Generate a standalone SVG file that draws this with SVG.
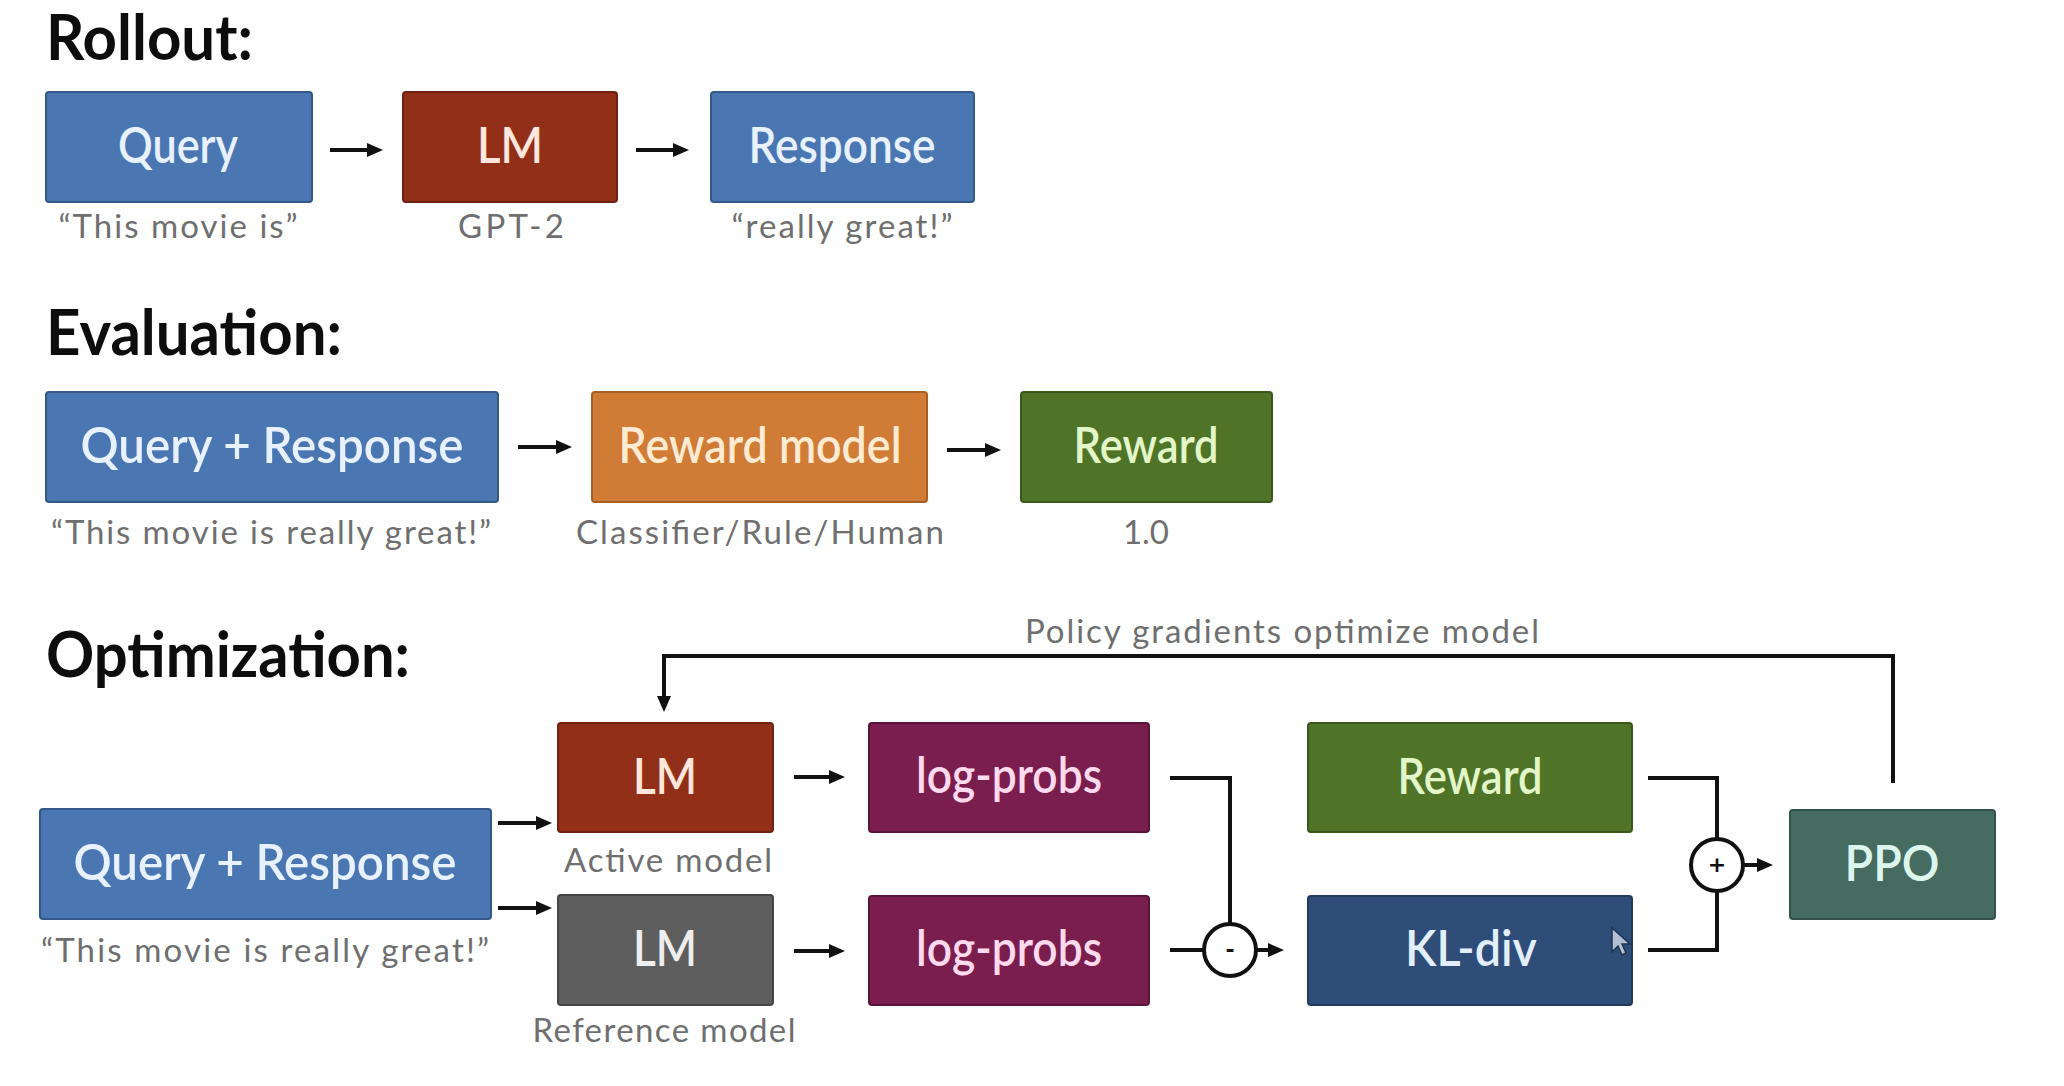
<svg xmlns="http://www.w3.org/2000/svg" width="2064" height="1086" viewBox="0 0 2064 1086">
  <style>
    .title { font-family: Lato, "Open Sans", "Liberation Sans", sans-serif; font-weight: 700; font-size: 63px; fill: #0d0d0d; }
    .lbl { font-family: Lato, "Open Sans", "Liberation Sans", sans-serif; font-weight: 600; font-size: 49px; text-anchor: middle; }
    .sub { font-family: Lato, "Open Sans", "Liberation Sans", sans-serif; font-size: 33px; fill: #6f6f6f; text-anchor: middle; }
    .box { stroke-width: 2; }
    .blue { fill: #4a77b2; stroke: #34588a; }
    .red { fill: #922f18; stroke: #6e2210; }
    .orange { fill: #d07b36; stroke: #a55e24; }
    .green { fill: #4f7427; stroke: #3a571c; }
    .purple { fill: #7a1e4d; stroke: #5a1638; }
    .gray { fill: #5e5e5e; stroke: #454545; }
    .navy { fill: #2f4d79; stroke: #223a5c; }
    .teal { fill: #466c62; stroke: #34524a; }
    .t-blue { fill: #e8f1ff; }
    .t-red { fill: #ffe6dc; }
    .t-orange { fill: #ffead2; }
    .t-green { fill: #e2f6c9; }
    .t-purple { fill: #ffd9ee; }
    .t-gray { fill: #eeeeee; }
    .t-navy { fill: #e3eeff; }
    .t-teal { fill: #dcf6ee; }
    .wire { fill: none; stroke: #111; stroke-width: 4; }
    .arrow { fill: none; stroke: #111; stroke-width: 4; marker-end: url(#head); }
    .op { fill: #fff; stroke: #111; stroke-width: 4; }
    .opsym { font-family: "DejaVu Sans", sans-serif; font-size: 22px; font-weight: 700; fill: #111; text-anchor: middle; }
  </style>
  <defs>
    <marker id="head" viewBox="0 0 16 16" refX="6" refY="8" markerWidth="16" markerHeight="16" markerUnits="userSpaceOnUse" orient="auto">
      <path d="M0,1 L16,8 L0,15 z" fill="#111"/>
    </marker>
  </defs>

  <rect width="2064" height="1086" fill="#fefefe"/>

  <!-- section headings -->
  <text class="title" x="46" y="60" textLength="207" lengthAdjust="spacingAndGlyphs">Rollout:</text>
  <text class="title" x="46" y="355" textLength="296" lengthAdjust="spacingAndGlyphs">Evaluation:</text>
  <text class="title" x="46" y="677" textLength="364" lengthAdjust="spacingAndGlyphs">Optimization:</text>

  <!-- rollout row -->
  <g id="rollout-query">
    <rect class="box blue" x="46" y="92" width="266" height="110" rx="3"/>
    <text class="lbl t-blue" x="178" y="163" textLength="120" lengthAdjust="spacingAndGlyphs">Query</text>
    <text class="sub" x="178" y="238" textLength="239" lengthAdjust="spacing">“This movie is”</text>
  </g>
  <g id="rollout-lm">
    <rect class="box red" x="403" y="92" width="214" height="110" rx="3"/>
    <text class="lbl t-red" x="510" y="163" textLength="66" lengthAdjust="spacingAndGlyphs">LM</text>
    <text class="sub" x="511" y="238" textLength="106" lengthAdjust="spacing">GPT-2</text>
  </g>
  <g id="rollout-response">
    <rect class="box blue" x="711" y="92" width="263" height="110" rx="3"/>
    <text class="lbl t-blue" x="842" y="163" textLength="187" lengthAdjust="spacingAndGlyphs">Response</text>
    <text class="sub" x="842" y="238" textLength="221" lengthAdjust="spacing">“really great!”</text>
  </g>

  <!-- evaluation row -->
  <g id="eval-query-response">
    <rect class="box blue" x="46" y="392" width="452" height="110" rx="3"/>
    <text class="lbl t-blue" x="272" y="463" textLength="383" lengthAdjust="spacingAndGlyphs">Query + Response</text>
    <text class="sub" x="271" y="544" textLength="440" lengthAdjust="spacing">“This movie is really great!”</text>
  </g>
  <g id="eval-reward-model">
    <rect class="box orange" x="592" y="392" width="335" height="110" rx="3"/>
    <text class="lbl t-orange" x="760" y="463" textLength="283" lengthAdjust="spacingAndGlyphs">Reward model</text>
    <text class="sub" x="760" y="544" textLength="368" lengthAdjust="spacing">Classifier/Rule/Human</text>
  </g>
  <g id="eval-reward">
    <rect class="box green" x="1021" y="392" width="251" height="110" rx="3"/>
    <text class="lbl t-green" x="1146" y="463" textLength="145" lengthAdjust="spacingAndGlyphs">Reward</text>
    <text class="sub" x="1146" y="544" textLength="46" lengthAdjust="spacing">1.0</text>
  </g>

  <!-- optimization stage -->
  <g id="opt-query-response">
    <rect class="box blue" x="40" y="809" width="451" height="110" rx="3"/>
    <text class="lbl t-blue" x="265" y="880" textLength="383" lengthAdjust="spacingAndGlyphs">Query + Response</text>
    <text class="sub" x="265" y="962" textLength="448" lengthAdjust="spacing">“This movie is really great!”</text>
  </g>
  <g id="opt-active-lm">
    <rect class="box red" x="558" y="723" width="215" height="109" rx="3"/>
    <text class="lbl t-red" x="665" y="794" textLength="64" lengthAdjust="spacingAndGlyphs">LM</text>
    <text class="sub" x="668" y="872" textLength="208" lengthAdjust="spacing">Active model</text>
  </g>
  <g id="opt-reference-lm">
    <rect class="box gray" x="558" y="895" width="215" height="110" rx="3"/>
    <text class="lbl t-gray" x="665" y="966" textLength="64" lengthAdjust="spacingAndGlyphs">LM</text>
    <text class="sub" x="664" y="1042" textLength="263" lengthAdjust="spacing">Reference model</text>
  </g>
  <g id="opt-logprobs-active">
    <rect class="box purple" x="869" y="723" width="280" height="109" rx="3"/>
    <text class="lbl t-purple" x="1009" y="793" textLength="186" lengthAdjust="spacingAndGlyphs">log-probs</text>
  </g>
  <g id="opt-logprobs-reference">
    <rect class="box purple" x="869" y="896" width="280" height="109" rx="3"/>
    <text class="lbl t-purple" x="1009" y="966" textLength="186" lengthAdjust="spacingAndGlyphs">log-probs</text>
  </g>
  <g id="opt-reward">
    <rect class="box green" x="1308" y="723" width="324" height="109" rx="3"/>
    <text class="lbl t-green" x="1470" y="794" textLength="145" lengthAdjust="spacingAndGlyphs">Reward</text>
  </g>
  <g id="opt-kl-div">
    <rect class="box navy" x="1308" y="896" width="324" height="109" rx="3"/>
    <text class="lbl t-navy" x="1471" y="966" textLength="132" lengthAdjust="spacingAndGlyphs">KL-div</text>
  </g>
  <g id="opt-ppo">
    <rect class="box teal" x="1790" y="810" width="205" height="109" rx="3"/>
    <text class="lbl t-teal" x="1892" y="881" textLength="95" lengthAdjust="spacingAndGlyphs">PPO</text>
  </g>

  <!-- connectors -->
  <g id="connectors">
    <!-- rollout -->
    <line class="arrow" x1="330" y1="150" x2="373" y2="150"/>
    <line class="arrow" x1="636" y1="150" x2="679" y2="150"/>
    <!-- evaluation -->
    <line class="arrow" x1="518" y1="447" x2="562" y2="447"/>
    <line class="arrow" x1="947" y1="450" x2="991" y2="450"/>
    <!-- inputs to both models -->
    <line class="arrow" x1="498" y1="823" x2="542" y2="823"/>
    <line class="arrow" x1="498" y1="908" x2="542" y2="908"/>
    <!-- models to log-probs -->
    <line class="arrow" x1="794" y1="777" x2="835" y2="777"/>
    <line class="arrow" x1="794" y1="951" x2="835" y2="951"/>
    <!-- log-probs difference -->
    <polyline class="wire" points="1170,778 1230,778 1230,924"/>
    <line class="wire" x1="1170" y1="950" x2="1204" y2="950"/>
    <circle class="op" cx="1230" cy="950" r="26"/>
    <text class="opsym" x="1230" y="957">-</text>
    <line class="arrow" x1="1256" y1="950" x2="1274" y2="950"/>
    <!-- reward plus KL penalty -->
    <polyline class="wire" points="1648,778 1717,778 1717,839"/>
    <polyline class="wire" points="1648,950 1717,950 1717,891"/>
    <circle class="op" cx="1717" cy="865" r="26"/>
    <text class="opsym" x="1717" y="872" font-size="18">+</text>
    <line class="arrow" x1="1743" y1="865" x2="1763" y2="865"/>
    <!-- policy gradient feedback -->
    <polyline class="arrow" points="1893,783 1893,656 664,656 664,702"/>
    <text class="sub" x="1282" y="643" textLength="514" lengthAdjust="spacing">Policy gradients optimize model</text>
  </g>

  <!-- pointer -->
  <path d="M1612,928 L1612,952 L1618,946 L1622,955 L1626,953 L1622,944 L1630,944 Z" fill="#dfe6f0" stroke="#1c2c44" stroke-width="1.5" opacity="0.75"/>
</svg>
